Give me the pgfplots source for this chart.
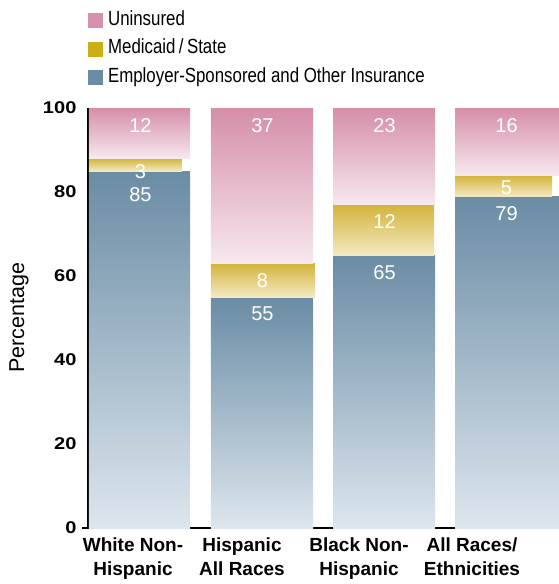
\documentclass[border=0pt]{standalone}
\usepackage{pgfplots}
\pgfplotsset{compat=1.18}
\usepackage{fontspec}
\setmainfont{Liberation Sans}
\newfontfamily\condfont[FakeStretch=0.822]{Liberation Sans}
\newfontfamily\widefont[FakeStretch=1.18]{Liberation Sans}
\definecolor{pinkT}{HTML}{D58EA9}
\definecolor{pinkM}{HTML}{E6B9CA}
\definecolor{pinkB}{HTML}{F7E8EF}
\definecolor{yelT}{HTML}{D3B43A}
\definecolor{yelB}{HTML}{F3E9C2}
\definecolor{bluT}{HTML}{6A8CA4}
\definecolor{bluM}{HTML}{97ACC4}
\definecolor{bluB}{HTML}{DDE6EE}
\definecolor{pinkL}{HTML}{D68FAC}
\definecolor{yelL}{HTML}{CDAE14}
\definecolor{bluL}{HTML}{6A8CA5}
\pgfplotsset{
  bluseg/.style={forget plot, draw=none, mark=none, top color=bluT, middle color=bluM, bottom color=bluB},
  yelseg/.style={forget plot, draw=none, mark=none, top color=yelT, bottom color=yelB},
  pinkseg/.style={forget plot, draw=none, mark=none, top color=pinkT, middle color=pinkM, bottom color=pinkB},
  vlabels/.style={forget plot, draw=none, mark=none, nodes near coords, point meta=explicit symbolic,
    every node near coord/.append style={white, font=\fontsize{20}{24}\selectfont, anchor=north, yshift=#1}},
}
\begin{document}
\begin{tikzpicture}
\begin{axis}[
  at={(88pt,-528pt)}, anchor=south west,
  scale only axis, width=471pt, height=420pt,
  xmin=-0.43, xmax=3.43, ymin=0, ymax=100,
  axis x line*=bottom, axis y line*=left,
  axis line style={line width=2pt, -},
  x axis line style={shorten <=-6pt},
  major tick length=0pt,
  xtick={-0.061,0.832,1.791,2.717},
  xticklabels={{White Non-\\Hispanic},{Hispanic\\All Races},{Black Non-\\Hispanic},{All Races/\\Ethnicities}},
  xticklabel style={align=center, font=\bfseries\fontsize{19}{24}\selectfont, yshift=-6pt},
  ytick={0,20,40,60,80,100},
  yticklabel style={font=\widefont\bfseries\fontsize{17}{20}\selectfont, xshift=-8pt},
  /pgf/number format/assume math mode=true,
  ylabel={Percentage},
  every axis y label/.style={at={(axis description cs:-0.1465,0.5)}, rotate=90, anchor=center, font=\fontsize{21.5}{24}\selectfont},
  legend style={at={(0,1)}, anchor=south west, draw=none, fill=none, yshift=19pt, inner sep=0pt,
    font=\condfont\fontsize{20.5}{24}\selectfont, row sep=5.5pt,
    cells={anchor=west},
    nodes={inner sep=2.5pt, text height=14pt, text depth=4pt}},
]
% White Non-Hispanic: 85 / 3 / 12
\addplot[bluseg]  coordinates {(-0.422,0)  (0.406,0)  (0.406,85)  (-0.422,85)} -- cycle;
\addplot[yelseg]  coordinates {(-0.422,85) (0.340,85) (0.340,88)  (-0.422,88)} -- cycle;
\addplot[pinkseg] coordinates {(-0.422,88) (0.406,88) (0.406,100) (-0.422,100)} -- cycle;
% Hispanic All Races: 55 / 8 / 37
\addplot[bluseg]  coordinates {(0.578,0)  (1.414,0)  (1.414,55)  (0.578,55)} -- cycle;
\addplot[yelseg]  coordinates {(0.578,55) (1.431,55) (1.431,63)  (0.578,63)} -- cycle;
\addplot[pinkseg] coordinates {(0.578,63) (1.414,63) (1.414,100) (0.578,100)} -- cycle;
% Black Non-Hispanic: 65 / 12 / 23
\addplot[bluseg]  coordinates {(1.578,0)  (2.414,0)  (2.414,65)  (1.578,65)} -- cycle;
\addplot[yelseg]  coordinates {(1.578,65) (2.406,65) (2.406,77)  (1.578,77)} -- cycle;
\addplot[pinkseg] coordinates {(1.578,77) (2.414,77) (2.414,100) (1.578,100)} -- cycle;
% All Races/Ethnicities: 79 / 5 / 16
\addplot[bluseg]  coordinates {(2.578,0)  (3.43,0)  (3.43,79)  (2.578,79)} -- cycle;
\addplot[yelseg]  coordinates {(2.578,79) (3.373,79) (3.373,84)  (2.578,84)} -- cycle;
\addplot[pinkseg] coordinates {(2.578,84) (3.43,84) (3.43,100) (2.578,100)} -- cycle;
% value labels at the top of each segment
\addplot[vlabels=-6.5pt]
  coordinates {(0,100) [12]
               (1,55) [55] (1,63) [8] (1,100) [37]
               (2,65) [65] (2,77) [12] (2,100) [23]
               (3,79) [79] (3,100) [16]};
\addplot[vlabels=-2.5pt] coordinates {(0,88) [3]};
\addplot[vlabels=-12.5pt] coordinates {(0,85) [85]};
\addplot[vlabels=-2pt] coordinates {(3,84) [5]};
\addlegendimage{legend image code/.code={\fill[pinkL] (0pt,-7pt) rectangle (14pt,7pt); \path (17pt,0pt);}}
\addlegendentry{Uninsured}
\addlegendimage{legend image code/.code={\fill[yelL] (0pt,-7pt) rectangle (14pt,7pt); \path (17pt,0pt);}}
\addlegendentry{Medicaid\,/\,State}
\addlegendimage{legend image code/.code={\fill[bluL] (0pt,-7pt) rectangle (14pt,7pt); \path (17pt,0pt);}}
\addlegendentry{Employer-Sponsored and Other Insurance}
\end{axis}
\pgfresetboundingbox
\path[use as bounding box] (0,0) rectangle (559pt,-584pt);
\end{tikzpicture}
\end{document}
